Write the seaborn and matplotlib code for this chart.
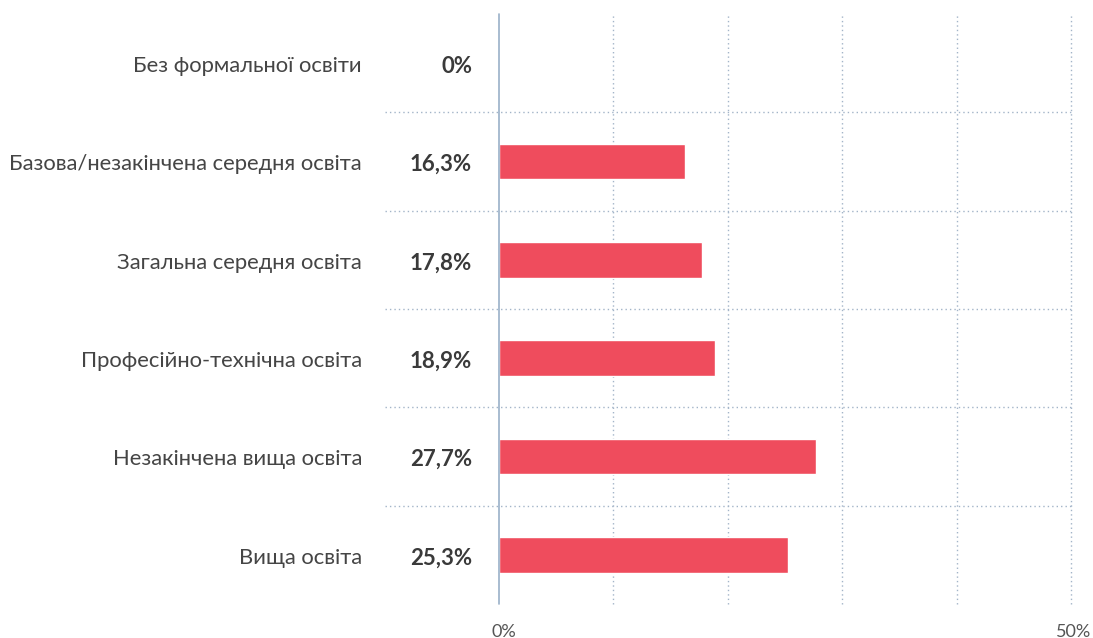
import matplotlib
matplotlib.use("Agg")
import matplotlib.pyplot as plt
import matplotlib.transforms as mtransforms
import seaborn as sns
import pandas as pd

categories = [
    "Без формальної освіти",
    "Базова/незакінчена середня освіта",
    "Загальна середня освіта",
    "Професійно-технічна освіта",
    "Незакінчена вища освіта",
    "Вища освіта",
]
values = [0.0, 16.3, 17.8, 18.9, 27.7, 25.3]
value_labels = ["0%", "16,3%", "17,8%", "18,9%", "27,7%", "25,3%"]
tick_values = [0, 50]
tick_labels = ["0%", "50%"]
grid_values = [10, 20, 30, 40, 50]

sns.set_theme(style="white")
plt.rcParams["font.family"] = ["Lato", "DejaVu Sans"]

df = pd.DataFrame({"category": categories, "value": values})

W, H = 1093, 638
fig = plt.figure(figsize=(W / 100, H / 100), dpi=100)
ax = fig.add_axes([498.5 / W, 1 - 604 / H, (1071 - 498.5) / W, (604 - 14) / H])

bar_color = "#EF4C5D"
grid_color = "#A3B4C8"

sns.barplot(data=df, x="value", y="category", orient="h", color=bar_color,
            saturation=1, width=0.36, ax=ax, zorder=3)

ax.set_xlim(0, 50)
ax.set_ylim(len(categories) - 0.5, -0.5)
ax.set_xlabel("")
ax.set_ylabel("")

for s in ax.spines.values():
    s.set_visible(False)

# zero baseline
ax.axvline(0, color="#9AB0C8", lw=1.2, zorder=4, clip_on=False)

# vertical dotted grid
for g in grid_values:
    ax.axvline(g, color=grid_color, lw=1.0, ls=(0, (1, 2.2)), zorder=1, clip_on=False)

# horizontal dotted separators between categories
for i in range(1, len(categories)):
    ax.axhline(i - 0.5, xmin=(385 - 498.5) / 572.5, xmax=1.0, color=grid_color,
               lw=1.0, ls=(0, (1, 2.2)), zorder=1, clip_on=False)

# x tick labels, only at the ends of the scale
ax.set_xticks(tick_values)
ax.set_xticklabels([])
ax.tick_params(axis="x", length=0)
ax.set_yticks(range(len(categories)))
ax.set_yticklabels([])
ax.tick_params(axis="y", length=0)

xtrans = mtransforms.blended_transform_factory(ax.transData, fig.transFigure)
for v, lab, dx in zip(tick_values, tick_labels, [5, 3]):
    ax.text(v, 1 - 632 / H, lab, transform=xtrans + mtransforms.ScaledTranslation(dx / 100, 0, fig.dpi_scale_trans),
            ha="center", va="center", fontsize=13, color="#555555", clip_on=False)

# category names and value labels
trans = mtransforms.blended_transform_factory(ax.transAxes, ax.transData)
for i, (cat, lab) in enumerate(zip(categories, value_labels)):
    ax.text(-136.5 / 572.5, i + 0.03, cat, transform=trans, ha="right", va="center",
            fontsize=15.8, color="#454545")
    ax.text(-26.5 / 572.5, i + 0.03, lab, transform=trans, ha="right", va="center",
            fontsize=16, fontweight="bold", color="#3A3A3A")

fig.savefig("out.png", dpi=100)
